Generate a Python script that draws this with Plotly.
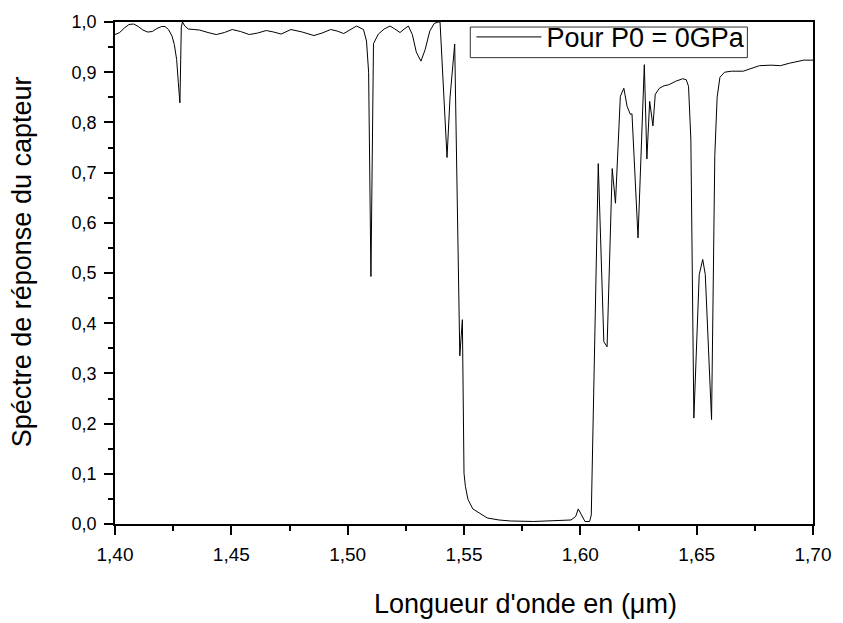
import plotly.graph_objects as go

# Wavelength (µm) and normalised sensor response
wavelength = [
    1.4000, 1.4020, 1.4040, 1.4060, 1.4080, 1.4100, 1.4120, 1.4140, 1.4160, 1.4180,
    1.4200, 1.4215, 1.4230, 1.4245, 1.4255, 1.4265, 1.4272, 1.4279, 1.4285, 1.4290,
    1.4300, 1.4315, 1.4340, 1.4363, 1.4400, 1.4435, 1.4470, 1.4504, 1.4540, 1.4577,
    1.4613, 1.4650, 1.4682, 1.4714, 1.4756, 1.4805, 1.4855, 1.4890, 1.4927, 1.4955,
    1.4983, 1.5010, 1.5038, 1.5068, 1.5081, 1.5090, 1.5100, 1.5111, 1.5132, 1.5157,
    1.5182, 1.5203, 1.5225, 1.5243, 1.5261, 1.5278, 1.5295, 1.5315, 1.5333, 1.5353,
    1.5372, 1.5389, 1.5397, 1.5427, 1.5440, 1.5460, 1.5482, 1.5493, 1.5500, 1.5506,
    1.5517, 1.5538, 1.5573, 1.5600, 1.5650, 1.5700, 1.5800, 1.5900, 1.5960, 1.5980,
    1.5991, 1.6005, 1.6020, 1.6040, 1.6047, 1.6077, 1.6101, 1.6115, 1.6137, 1.6151,
    1.6172, 1.6187, 1.6201, 1.6215, 1.6222, 1.6248, 1.6275, 1.6286, 1.6298, 1.6312,
    1.6322, 1.6340, 1.6360, 1.6380, 1.6410, 1.6440, 1.6455, 1.6465, 1.6475, 1.6488,
    1.6511, 1.6526, 1.6537, 1.6564, 1.6578, 1.6588, 1.6600, 1.6620, 1.6650, 1.6700,
    1.6740, 1.6770, 1.6820, 1.6860, 1.6900, 1.6960, 1.7000,
]
response = [
    0.975, 0.979, 0.988, 0.995, 0.996, 0.991, 0.984, 0.980, 0.981, 0.987,
    0.991, 0.991, 0.985, 0.972, 0.955, 0.925, 0.880, 0.839, 0.990, 1.000,
    0.992, 0.986, 0.985, 0.984, 0.979, 0.975, 0.979, 0.985, 0.981, 0.975,
    0.978, 0.983, 0.980, 0.976, 0.985, 0.980, 0.973, 0.978, 0.985, 0.982,
    0.977, 0.984, 0.992, 0.985, 0.962, 0.900, 0.493, 0.957, 0.976, 0.986,
    0.992, 0.986, 0.979, 0.986, 0.992, 0.975, 0.940, 0.922, 0.945, 0.982,
    0.997, 1.000, 1.000, 0.730, 0.850, 0.956, 0.335, 0.407, 0.101, 0.075,
    0.049, 0.030, 0.020, 0.012, 0.008, 0.006, 0.005, 0.006, 0.008, 0.015,
    0.030, 0.018, 0.005, 0.005, 0.018, 0.718, 0.363, 0.353, 0.708, 0.639,
    0.852, 0.868, 0.832, 0.816, 0.817, 0.570, 0.915, 0.727, 0.842, 0.793,
    0.856, 0.868, 0.873, 0.875, 0.882, 0.887, 0.885, 0.872, 0.767, 0.211,
    0.497, 0.527, 0.497, 0.208, 0.734, 0.850, 0.890, 0.900, 0.902, 0.902,
    0.908, 0.913, 0.914, 0.913, 0.918, 0.924, 0.924,
]

x_ticks = [1.40, 1.45, 1.50, 1.55, 1.60, 1.65, 1.70]
y_ticks = [0.0, 0.1, 0.2, 0.3, 0.4, 0.5, 0.6, 0.7, 0.8, 0.9, 1.0]

FONT = "Liberation Sans, Arial, sans-serif"

fig = go.Figure()
fig.add_trace(go.Scatter(
    x=wavelength, y=response, mode="lines",
    line=dict(color="black", width=1),
    name="Pour P0 = 0GPa",
))

axis_common = dict(
    showgrid=False, zeroline=False,
    showline=True, linecolor="black", linewidth=1.5, mirror=True,
    ticks="outside", ticklen=9, tickwidth=1.5, tickcolor="black",
)

fig.update_xaxes(
    range=[1.40, 1.70], tickvals=x_ticks, tickformat=".2f",
    minor=dict(dtick=0.025, ticklen=5, tickwidth=1.5, tickcolor="black", ticks="outside"),
    ticklabelstandoff=3,
    tickfont=dict(family=FONT, size=19, color="black"),
    **axis_common,
)
fig.update_yaxes(
    range=[0.0, 1.0], tickvals=y_ticks, tickformat=".1f",
    minor=dict(dtick=0.05, ticklen=5, tickwidth=1.5, tickcolor="black", ticks="outside"),
    ticklabelstandoff=4,
    tickfont=dict(family=FONT, size=18, color="black"),
    **axis_common,
)

# Axis titles as free annotations so they sit exactly where wanted
title_font = dict(family=FONT, size=27, color="black")
fig.add_annotation(
    text="Longueur d'onde en (μm)", xref="paper", yref="paper",
    x=0.5875, y=-0.159, xanchor="center", yanchor="middle",
    showarrow=False, font=title_font,
)
fig.add_annotation(
    text="Spéctre de réponse du capteur", xref="paper", yref="paper",
    x=-0.133, y=0.5217, xanchor="center", yanchor="middle",
    textangle=-90, showarrow=False, font=title_font,
)

# Legend frame drawn as a tight rectangle
fig.add_shape(
    type="rect", xref="paper", yref="paper",
    x0=0.509, x1=0.906, y0=0.929, y1=0.990,
    line=dict(color="#333333", width=1), fillcolor="rgba(0,0,0,0)", layer="above",
)

fig.update_layout(
    width=843, height=623,
    margin=dict(l=115, r=25, t=16, b=99),
    paper_bgcolor="white", plot_bgcolor="white",
    separators=", ",
    showlegend=True,
    legend=dict(
        x=0.5107, y=0.9694, xanchor="left", yanchor="middle",
        borderwidth=0, bgcolor="rgba(0,0,0,0)",
        font=dict(family=FONT, size=27, color="black"),
        itemwidth=65,
    ),
)

fig.write_html("out.html")
